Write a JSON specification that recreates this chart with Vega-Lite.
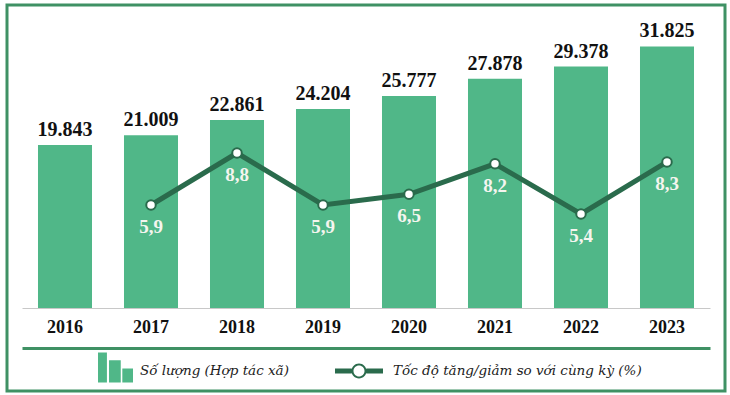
{
  "$schema": "https://vega.github.io/schema/vega-lite/v6.json",
  "width": 718,
  "height": 386,
  "padding": {"left": 7, "top": 5, "right": 5, "bottom": 4},
  "autosize": {"type": "none"},
  "config": {
    "locale": {"number": {"decimal": ",", "thousands": ".", "grouping": [3], "currency": ["", " đ"]}},
    "view": {"stroke": "#3f9164", "strokeWidth": 3}
  },
  "data": {
    "values": [
      {"year": "2016", "count": 19843, "growth": null},
      {"year": "2017", "count": 21009, "growth": 5.9},
      {"year": "2018", "count": 22861, "growth": 8.8},
      {"year": "2019", "count": 24204, "growth": 5.9},
      {"year": "2020", "count": 25777, "growth": 6.5},
      {"year": "2021", "count": 27878, "growth": 8.2},
      {"year": "2022", "count": 29378, "growth": 5.4},
      {"year": "2023", "count": 31825, "growth": 8.3}
    ]
  },
  "layer": [
    {
      "layer": [
        {
          "mark": {"type": "bar"},
          "encoding": {
            "x": {
              "field": "year", "type": "ordinal",
              "scale": {"type": "band", "range": [15, 703], "paddingInner": 0.372, "paddingOuter": 0.186},
              "axis": {"orient": "bottom", "offset": -83, "title": null, "ticks": false, "labelPadding": 10, "labelFont": "Liberation Serif", "labelFontSize": 18, "labelFontWeight": "bold", "labelColor": "#111111", "domainColor": "#c8c8c8", "domainWidth": 1, "labelAngle": 0, "grid": false}
            },
            "y": {
              "field": "count", "type": "quantitative",
              "scale": {"domain": [-10097, 36861], "nice": false, "zero": false},
              "axis": {"orient": "left", "values": [-4866], "grid": true, "gridColor": "#3f9164", "gridWidth": 3, "gridOpacity": 1, "labels": false, "ticks": false, "domain": false, "title": null}
            },
            "fill": {
              "datum": "Số lượng (Hợp tác xã)",
              "scale": {"range": ["#50b788"]},
              "legend": {"orient": "none", "legendX": 91, "legendY": 348, "title": null, "padding": 0, "symbolType": "M-1,-1.03H-0.49V0.69H-1Z M-0.37,-0.59H0.3V0.69H-0.37Z M0.39,-0.11H1V0.69H0.39Z", "symbolSize": 1225, "symbolStrokeWidth": 0, "symbolOpacity": 1, "labelFont": "DejaVu Serif", "labelFontStyle": "italic", "labelFontSize": 13.5, "labelColor": "#222222", "labelOffset": 7, "labelLimit": 400}
            }
          }
        },
        {
          "mark": {"type": "text", "dy": -9, "baseline": "alphabetic", "font": "Liberation Serif", "fontSize": 20, "fontWeight": "bold", "color": "#111111"},
          "encoding": {
            "x": {"field": "year", "type": "ordinal"},
            "y": {"field": "count", "type": "quantitative"},
            "text": {"field": "count", "type": "quantitative", "format": ",d"}
          }
        }
      ]
    },
    {
      "transform": [{"filter": "datum.growth != null"}],
      "layer": [
        {
          "mark": {"type": "line", "strokeWidth": 5},
          "encoding": {
            "x": {"field": "year", "type": "ordinal"},
            "y": {"field": "growth", "type": "quantitative", "scale": {"domain": [-4.473, 17.055], "nice": false, "zero": false}, "axis": null},
            "stroke": {
              "datum": "Tốc độ tăng/giảm so với cùng kỳ (%)",
              "scale": {"range": ["#2a6b4c"]},
              "legend": {"orient": "none", "legendX": 328, "legendY": 342, "title": null, "padding": 0, "symbolType": "M-1,-0.1H-0.3V0.1H-1Z M0.3,-0.1H1V0.1H0.3Z M0.31,0A0.31,0.31 0 1,1 -0.31,0A0.31,0.31 0 1,1 0.31,0Z M0.23,0A0.23,0.23 0 1,0 -0.23,0A0.23,0.23 0 1,0 0.23,0Z", "symbolSize": 2304, "symbolFillColor": "#2a6b4c", "symbolStrokeWidth": 0, "symbolOpacity": 1, "labelFont": "DejaVu Serif", "labelFontStyle": "italic", "labelFontSize": 13.5, "labelColor": "#222222", "labelOffset": 10, "labelLimit": 400,
                "encode": {"symbols": {"update": {"fill": {"value": "#2a6b4c"}, "strokeWidth": {"value": 0}}}}}
            }
          }
        },
        {
          "mark": {"type": "point", "filled": true, "fill": "white", "stroke": "#2a6b4c", "strokeWidth": 2, "size": 90, "opacity": 1},
          "encoding": {
            "x": {"field": "year", "type": "ordinal"},
            "y": {"field": "growth", "type": "quantitative"}
          }
        },
        {
          "mark": {"type": "text", "dy": 28, "baseline": "alphabetic", "font": "Liberation Serif", "fontSize": 19, "fontWeight": "bold", "color": "#f5f5ef"},
          "encoding": {
            "x": {"field": "year", "type": "ordinal"},
            "y": {"field": "growth", "type": "quantitative"},
            "text": {"field": "growth", "type": "quantitative", "format": ".1f"}
          }
        }
      ]
    }
  ],
  "resolve": {"scale": {"y": "independent"}}
}
